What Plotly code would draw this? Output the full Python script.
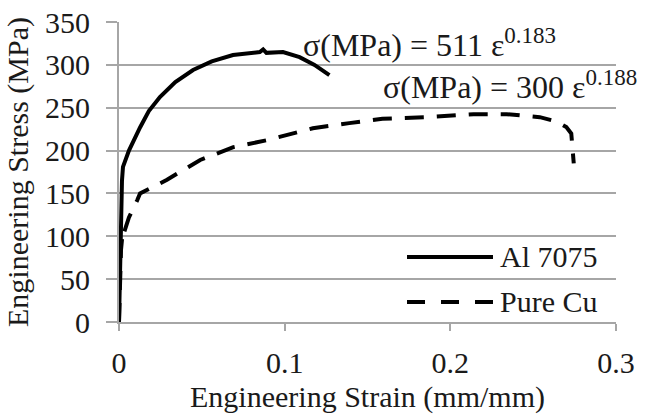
import plotly.graph_objects as go

al_strain = [0.0, 0.0005, 0.0012, 0.0018, 0.0024, 0.006, 0.0127, 0.018, 0.0247, 0.034, 0.0447, 0.056, 0.0688, 0.078, 0.085, 0.087, 0.089, 0.099, 0.109, 0.118, 0.127]
al_stress = [0.0, 60.0, 120.0, 165.0, 181.0, 200.0, 227.0, 246.0, 262.5, 280.0, 294.0, 304.0, 311.5, 313.0, 315.0, 318.0, 314.0, 315.0, 309.0, 300.0, 288.0]

cu_strain = [0.0, 0.0005, 0.0012, 0.002, 0.0025, 0.003, 0.0045, 0.006, 0.011, 0.0127, 0.02, 0.029, 0.049, 0.069, 0.089, 0.117, 0.139, 0.159, 0.186, 0.214, 0.234, 0.254, 0.264, 0.270, 0.273, 0.274, 0.2745]
cu_stress = [0.0, 40.0, 84.0, 100.0, 107.0, 104.0, 115.0, 122.0, 142.0, 150.0, 157.0, 166.0, 189.0, 204.0, 212.0, 226.0, 232.0, 237.0, 239.0, 242.5, 242.5, 239.0, 234.0, 227.5, 220.0, 200.0, 185.0]

x_ticks = [0, 0.1, 0.2, 0.3]
x_tick_labels = ["0", "0.1", "0.2", "0.3"]
y_ticks = [0, 50, 100, 150, 200, 250, 300, 350]

SERIF = "Liberation Serif"
GRID = "#a6a6a6"
TXT = "#1a1a1a"
F30 = dict(family=SERIF, size=30, color=TXT)
EQF = dict(family=SERIF, size=32, color=TXT)

fig = go.Figure()
fig.add_trace(go.Scatter(x=al_strain, y=al_stress, mode="lines", name="Al 7075",
                         line=dict(color="black", width=4), showlegend=False))
fig.add_trace(go.Scatter(x=cu_strain, y=cu_stress, mode="lines", name="Pure Cu",
                         line=dict(color="black", width=4, dash="19px,13px"), showlegend=False))

fig.update_layout(
    width=646, height=417,
    margin=dict(l=119, r=30, t=22, b=95, autoexpand=False),
    paper_bgcolor="white", plot_bgcolor="white",
    font=F30,
    xaxis=dict(range=[0, 0.3], tickvals=x_ticks, ticktext=x_tick_labels,
               automargin=False,
               showgrid=False, zeroline=False, showline=True, linecolor=GRID, linewidth=2,
               ticks="outside", ticklen=7, tickwidth=2, tickcolor=GRID,
               ticklabelstandoff=6,
               tickfont=F30,
               title=dict(text="Engineering Strain (mm/mm)", standoff=8, font=F30)),
    yaxis=dict(range=[0, 350], tickvals=y_ticks,
               automargin=False,
               showgrid=True, gridcolor=GRID, gridwidth=2, zeroline=False,
               showline=True, linecolor=GRID, linewidth=2,
               ticks="outside", ticklen=11, tickwidth=2, tickcolor=GRID,
               ticklabelstandoff=10,
               tickfont=F30,
               title=dict(text="Engineering Stress (MPa)", standoff=8, font=F30)),
)

SUP1 = "<sup><span style='font-size:23px'>0.183</span></sup>"
SUP2 = "<sup><span style='font-size:23px'>0.188</span></sup>"
fig.add_annotation(x=0.366, y=0.93, xref="paper", yref="paper", xanchor="left", yanchor="middle",
                   text="σ(MPa) = 511 ε" + SUP1, showarrow=False, font=EQF)
fig.add_annotation(x=0.527, y=0.79, xref="paper", yref="paper", xanchor="left", yanchor="middle",
                   text="σ(MPa) = 300 ε" + SUP2, showarrow=False, font=EQF)

# custom legend
fig.add_shape(type="line", xref="paper", yref="paper", x0=0.5795, x1=0.7525, y0=0.2167, y1=0.2167,
              line=dict(color="black", width=4))
fig.add_shape(type="line", xref="paper", yref="paper", x0=0.5795, x1=0.7525, y0=0.0667, y1=0.0667,
              line=dict(color="black", width=4, dash="18px,16px"))
fig.add_annotation(x=0.762, y=0.2167, xref="paper", yref="paper", xanchor="left", yanchor="middle",
                   text="Al 7075", showarrow=False, font=F30)
fig.add_annotation(x=0.762, y=0.0667, xref="paper", yref="paper", xanchor="left", yanchor="middle",
                   text="Pure Cu", showarrow=False, font=F30)

fig.write_html("out.html")
